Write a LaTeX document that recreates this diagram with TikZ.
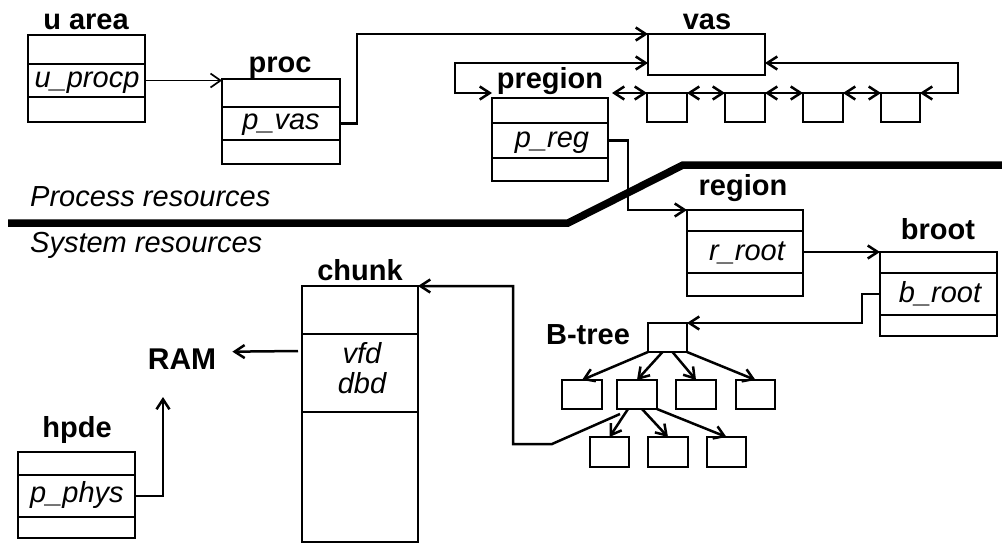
\documentclass[tikz,border=0pt]{standalone}
\usepackage{fontspec}
\setmainfont{Liberation Sans}
\usetikzlibrary{arrows.meta,calc}
\newcommand\mkbox[5]{%
  \node[fld, minimum width={(#4-#2)*1pt}, minimum height={(#5-#3)*1pt}] (#1) at ({(#2+#4)/2},{(#3+#5)/2}) {};}
\tikzset{
  fld/.style={draw, line width=2.6pt, inner sep=0pt, outer sep=0pt},
  lbl/.style={font=\bfseries\fontsize{29}{34}\selectfont, anchor=base, inner sep=0pt},
  ital/.style={font=\itshape\fontsize{29}{34}\selectfont, anchor=base, inner sep=0pt},
  sect/.style={font=\itshape\fontsize{29}{34}\selectfont, anchor=base west, inner sep=0pt},
  barb/.tip={Straight Barb[length=10pt,width=13pt]},
  arr/.style={line width=2.5pt, -barb},
  arrtwo/.style={line width=2.5pt, barb-barb},
  thinarr/.style={line width=1.7pt, -{Straight Barb[length=10pt,width=14pt]}},
  divider/.style={line width=7.5pt}
}
\begin{document}
\begin{tikzpicture}[x=1pt,y=-1pt]
\useasboundingbox (0,0) rectangle (1002,544);
% separator
\draw[divider] (8,223) -- (568,223) -- (683,165) -- (1002,165);
\node[sect] (tproc) at (30,206) {Process resources};
\node[sect] (tsys) at (30,252) {System resources};
% u area
\mkbox{ua1}{28}{35}{145}{64}
\mkbox{ua2}{28}{64}{145}{97}
\mkbox{ua3}{28}{97}{145}{122}
\node[lbl] (luarea) at (86,29) {u area};
\node[ital] (tuprocp) at (87,87) {u\_procp};
% proc
\mkbox{pr1}{222}{79}{340}{107}
\mkbox{pr2}{222}{107}{340}{140}
\mkbox{pr3}{222}{140}{340}{164}
\node[lbl] (lproc) at (280,72) {proc};
\node[ital] (tpvas) at (281,129) {p\_vas};
% vas
\mkbox{vas}{648}{34}{765}{75}
\node[lbl] (lvas) at (707,29) {vas};
% pregion
\mkbox{pg1}{492}{98}{608}{123}
\mkbox{pg2}{492}{123}{608}{158}
\mkbox{pg3}{492}{158}{608}{181}
\node[lbl] (lpregion) at (550,88) {pregion};
\node[ital] (tpreg) at (552,147) {p\_reg};
% small boxes
\mkbox{sb1}{647}{93}{687}{122}
\mkbox{sb2}{725}{93}{765}{122}
\mkbox{sb3}{803}{93}{843}{122}
\mkbox{sb4}{881}{93}{920}{122}
% region
\mkbox{rg1}{687}{210}{803}{231}
\mkbox{rg2}{687}{231}{803}{273}
\mkbox{rg3}{687}{273}{803}{296}
\node[lbl] (lregion) at (743,195) {region};
\node[ital] (trroot) at (747,260) {r\_root};
% broot
\mkbox{br1}{880}{252}{997}{273}
\mkbox{br2}{880}{273}{997}{315}
\mkbox{br3}{880}{315}{997}{336}
\node[lbl] (lbroot) at (938,239) {broot};
\node[ital] (tbroot) at (940,302) {b\_root};
% chunk
\mkbox{ch1}{302}{286}{418}{334}
\mkbox{ch2}{302}{334}{418}{412}
\mkbox{ch3}{302}{412}{418}{542}
\node[lbl] (lchunk) at (360,280) {chunk};
\node[ital] (tvfd) at (362,363) {vfd};
\node[ital] (tdbd) at (362,393) {dbd};
% hpde
\mkbox{hp1}{18}{452}{135}{475}
\mkbox{hp2}{18}{475}{135}{517}
\mkbox{hp3}{18}{517}{135}{538}
\node[lbl] (lhpde) at (77,437) {hpde};
\node[ital] (tpphys) at (77,502) {p\_phys};
% RAM
\node[font=\bfseries\fontsize{30}{35}\selectfont, anchor=base, inner sep=0pt] (ram) at (182,369) {RAM};
% B-tree
\node[lbl] (lbtree) at (588,344) {B-tree};
\mkbox{root}{648}{323}{687}{352}
\mkbox{la}{562}{380}{602}{409}
\mkbox{lb}{617}{380}{657}{409}
\mkbox{lc}{676}{380}{716}{409}
\mkbox{ld}{736}{380}{775}{409}
\mkbox{ma}{590}{437}{629}{467}
\mkbox{mb}{648}{437}{688}{467}
\mkbox{mc}{707}{437}{746}{467}
% connectors
\draw[thinarr] (ua2.east) -- (ua2.east -| pr1.west);
\coordinate (c1) at (357,34);
\draw[arr] (pr2.east) -| (c1) -- (vas.north west);
\coordinate (vasL) at ($(vas.south west)+(0,-12)$);
\coordinate (cl) at (455,93);
\coordinate (pregL) at ($(pg1.north west)+(0,-5)$);
\draw[arrtwo] (vasL) -| (cl) -- (pregL);
\coordinate (pregR) at ($(pg1.north east)+(4,-5)$);
\draw[arrtwo] (pregR) -- (sb1.north west);
\draw[arrtwo] (sb1.north east) -- (sb2.north west);
\draw[arrtwo] (sb2.north east) -- (sb3.north west);
\draw[arrtwo] (sb3.north east) -- (sb4.north west);
\coordinate (vasR) at ($(vas.south east)+(0,-12)$);
\coordinate (cr) at (958,93);
\draw[arrtwo] (vasR) -| (cr) -- (sb4.north east);
\coordinate (c2) at (628,210);
\draw[arr] (pg2.east) -| (c2) -- (rg1.north west);
\draw[arr] (rg2.east) -- (br1.north west);
\coordinate (c3) at (862,323);
\draw[arr] (br2.west) -| (c3) -- (root.north east);
\draw[arr] (root.south west) -- (la.north);
\draw[arr] ($(root.south)+(-5,0)$) -- (lb.north);
\draw[arr] ($(root.south)+(5,0)$) -- (lc.north);
\draw[arr] (root.south east) -- (ld.north);
\draw[arr] ($(lb.south)+(-9,0)$) -- (ma.north);
\draw[arr] ($(lb.south)+(5,0)$) -- (mb.north);
\draw[arr] (lb.south east) -- (mc.north);
\coordinate (k1) at ($(lb.south west)+(3,5)$);
\coordinate (k2) at (552,444);
\coordinate (k3) at (513,444);
\draw[arr] (k1) -- (k2) -- (k3) |- (ch1.north east);
\coordinate (chL) at ($(ch2.north west)+(-4,17)$);
\coordinate (ramR) at ($(ram.east)+(16,-7)$);
\draw[arr] (chL) -- (ramR);
\coordinate (ramB) at (163,397);
\draw[arr] (hp2.east) -| (ramB);
\end{tikzpicture}
\end{document}
